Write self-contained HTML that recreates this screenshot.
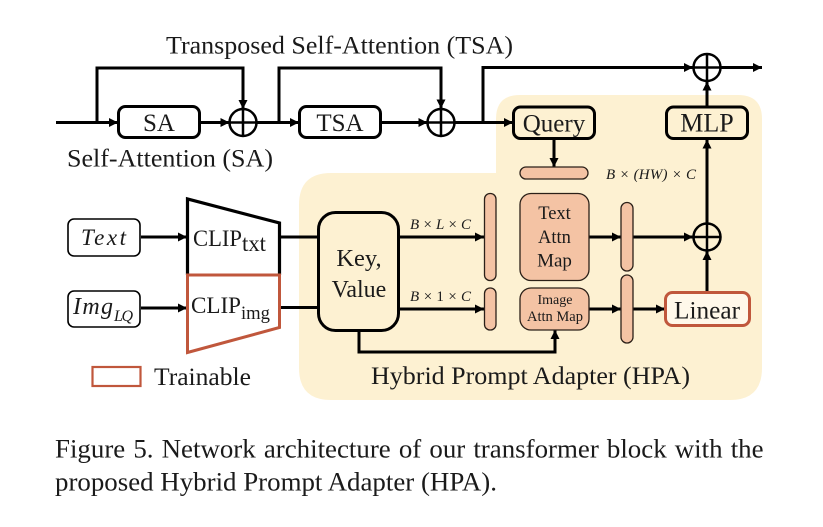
<!DOCTYPE html>
<html>
<head>
<meta charset="utf-8">
<style>
html,body{margin:0;padding:0;background:#fff;width:823px;height:527px;overflow:hidden}
svg{display:block}
text{font-family:"Liberation Serif",serif;fill:#1a1a1a}
.m{font-style:italic}
.u{font-style:normal}
</style>
</head>
<body>
<svg width="823" height="527" viewBox="0 0 823 527" xmlns="http://www.w3.org/2000/svg">
<defs>
<marker id="a" markerUnits="userSpaceOnUse" markerWidth="12" markerHeight="12" refX="9" refY="6" orient="auto"><path d="M0 1.500L9 6L0 10.500Z" fill="#000"/></marker>
</defs>
<path d="M520 95H738Q762 95 762 119V368Q762 400 730 400H331Q299 400 299 368V205Q299 173 331 173H496V119Q496 95 520 95Z" fill="#fdf1d2"/>

<g fill="none" stroke="#000" stroke-width="3">
<path d="M56 122.500H118" marker-end="url(#a)"/>
<path d="M97 122.500V68H243V109" marker-end="url(#a)"/>
<path d="M200 122.500H229.500" marker-end="url(#a)"/>
<path d="M257 122.500H299" marker-end="url(#a)"/>
<path d="M279 122.500V68H441V108.500" marker-end="url(#a)"/>
<path d="M381 122.500H427.500" marker-end="url(#a)"/>
<path d="M455 122.500H513" marker-end="url(#a)"/>
<path d="M483 122.500V67.500H693" marker-end="url(#a)"/>
<path d="M721 67.500H762" marker-end="url(#a)"/>
<path d="M707 107V81.500" marker-end="url(#a)"/>
<path d="M707 223V139.500" marker-end="url(#a)"/>
<path d="M707 292V251" marker-end="url(#a)"/>
<path d="M554 139V167" marker-end="url(#a)"/>
<path d="M141 237H187" marker-end="url(#a)"/>
<path d="M141 308H187" marker-end="url(#a)"/>
<path d="M280 237H318M280 307.500H318"/>
<path d="M399 237H484" marker-end="url(#a)"/>
<path d="M399 309H484" marker-end="url(#a)"/>
<path d="M589 237H621" marker-end="url(#a)"/>
<path d="M633 237H693" marker-end="url(#a)"/>
<path d="M589 309H621" marker-end="url(#a)"/>
<path d="M633 309H665" marker-end="url(#a)"/>
<path d="M359 331V352H555V330" marker-end="url(#a)"/>
</g>

<g fill="#fff" stroke="#000" stroke-width="3">
<rect x="118.500" y="106.500" width="81" height="31" rx="7"/>
<rect x="299.500" y="106.500" width="81" height="31" rx="7"/>
</g>
<g fill="#fdf1d2" stroke="#000" stroke-width="3">
<rect x="513.500" y="107" width="81" height="31.500" rx="7"/>
<rect x="666.500" y="107" width="81" height="31.500" rx="7"/>
<rect x="318.500" y="212.500" width="80" height="118" rx="17"/>
</g>
<rect x="665.500" y="292.500" width="84" height="33" rx="7" fill="#fff8ea" stroke="#c0573c" stroke-width="3"/>

<g fill="none" stroke="#000" stroke-width="2.500">
<circle cx="243" cy="122.500" r="13.500"/><path d="M229.500 122.500H256.500M243 109V136"/>
<circle cx="441" cy="122.500" r="13.500"/><path d="M427.500 122.500H454.500M441 109V136"/>
<circle cx="707" cy="67.500" r="13.500"/><path d="M693.500 67.500H720.500M707 54V81"/>
<circle cx="707" cy="237" r="13.500"/><path d="M693.500 237H720.500M707 223.500V250.500"/>
</g>

<g fill="#f4c3a4" stroke="#2b2018" stroke-width="1.300">
<rect x="520" y="167" width="68" height="12" rx="6"/>
<rect x="484.500" y="193.500" width="11.500" height="87" rx="5.500"/>
<rect x="484.500" y="288" width="11.500" height="42" rx="5.500"/>
<rect x="520" y="193.500" width="69" height="87" rx="11"/>
<rect x="520" y="288" width="69" height="42" rx="11"/>
<rect x="621" y="202.500" width="12" height="68.500" rx="6"/>
<rect x="621" y="275" width="12" height="68" rx="6"/>
</g>

<rect x="68" y="219" width="72" height="37" rx="6" fill="#fff" stroke="#000" stroke-width="1.600"/>
<rect x="68" y="291" width="72" height="36" rx="6" fill="#fff" stroke="#000" stroke-width="1.600"/>

<path d="M187.500 275V199L279.500 223V275" fill="none" stroke="#000" stroke-width="3.200"/>
<path d="M187.500 275H279.500V327.500L187.500 352.500Z" fill="none" stroke="#c0573c" stroke-width="3"/>
<rect x="92.500" y="367" width="48" height="19" fill="#fff" stroke="#c0573c" stroke-width="2.200"/>

<text x="166" y="53.500" font-size="25.500" textLength="347" lengthAdjust="spacingAndGlyphs">Transposed Self-Attention (TSA)</text>
<text x="67" y="166.500" font-size="25.500" textLength="206" lengthAdjust="spacingAndGlyphs">Self-Attention (SA)</text>
<text x="159" y="131" font-size="25" text-anchor="middle">SA</text>
<text x="340" y="131" font-size="25" text-anchor="middle">TSA</text>
<text x="554" y="131.500" font-size="25" text-anchor="middle">Query</text>
<text x="707" y="131.500" font-size="26" text-anchor="middle">MLP</text>

<text class="m" x="81" y="245" font-size="23" textLength="45" lengthAdjust="spacing">Text</text>
<text class="m" x="73" y="314" font-size="24" textLength="40" lengthAdjust="spacing">Img</text>
<text class="m" x="114" y="321" font-size="16" textLength="19" lengthAdjust="spacing">LQ</text>

<text x="193" y="246" font-size="23" textLength="49" lengthAdjust="spacingAndGlyphs">CLIP</text>
<text x="242" y="251" font-size="23" textLength="24" lengthAdjust="spacingAndGlyphs">txt</text>
<text x="191" y="313" font-size="23" textLength="50" lengthAdjust="spacingAndGlyphs">CLIP</text>
<text x="241" y="319" font-size="19" textLength="29" lengthAdjust="spacingAndGlyphs">img</text>

<text x="359" y="266" font-size="24.500" text-anchor="middle">Key,</text>
<text x="359" y="297" font-size="24" text-anchor="middle">Value</text>

<text class="m" x="410" y="229" font-size="15" textLength="61" lengthAdjust="spacing">B × L × C</text>
<text class="m" x="410" y="301" font-size="15" textLength="61" lengthAdjust="spacing">B × <tspan class="u">1</tspan> × C</text>
<text class="m" x="606" y="179" font-size="15" textLength="90" lengthAdjust="spacing">B × (HW) × C</text>

<text x="554.500" y="219" font-size="18.500" text-anchor="middle">Text</text>
<text x="554.500" y="243" font-size="18.500" text-anchor="middle">Attn</text>
<text x="554.500" y="266.500" font-size="19" text-anchor="middle">Map</text>
<text x="555" y="304" font-size="14" text-anchor="middle">Image</text>
<text x="555" y="321" font-size="14.500" text-anchor="middle">Attn Map</text>

<text x="674" y="318.500" font-size="25.500" textLength="66" lengthAdjust="spacingAndGlyphs">Linear</text>
<text x="154" y="385" font-size="25.300" textLength="97" lengthAdjust="spacingAndGlyphs">Trainable</text>
<text x="371" y="384" font-size="25.500" textLength="319" lengthAdjust="spacingAndGlyphs">Hybrid Prompt Adapter (HPA)</text>

<text x="55" y="457.500" font-size="26.900" word-spacing="1.400">Figure 5. Network architecture of our transformer block with the</text>
<text x="55" y="490.500" font-size="26.900">proposed Hybrid Prompt Adapter (HPA).</text>
</svg>
</body>
</html>
